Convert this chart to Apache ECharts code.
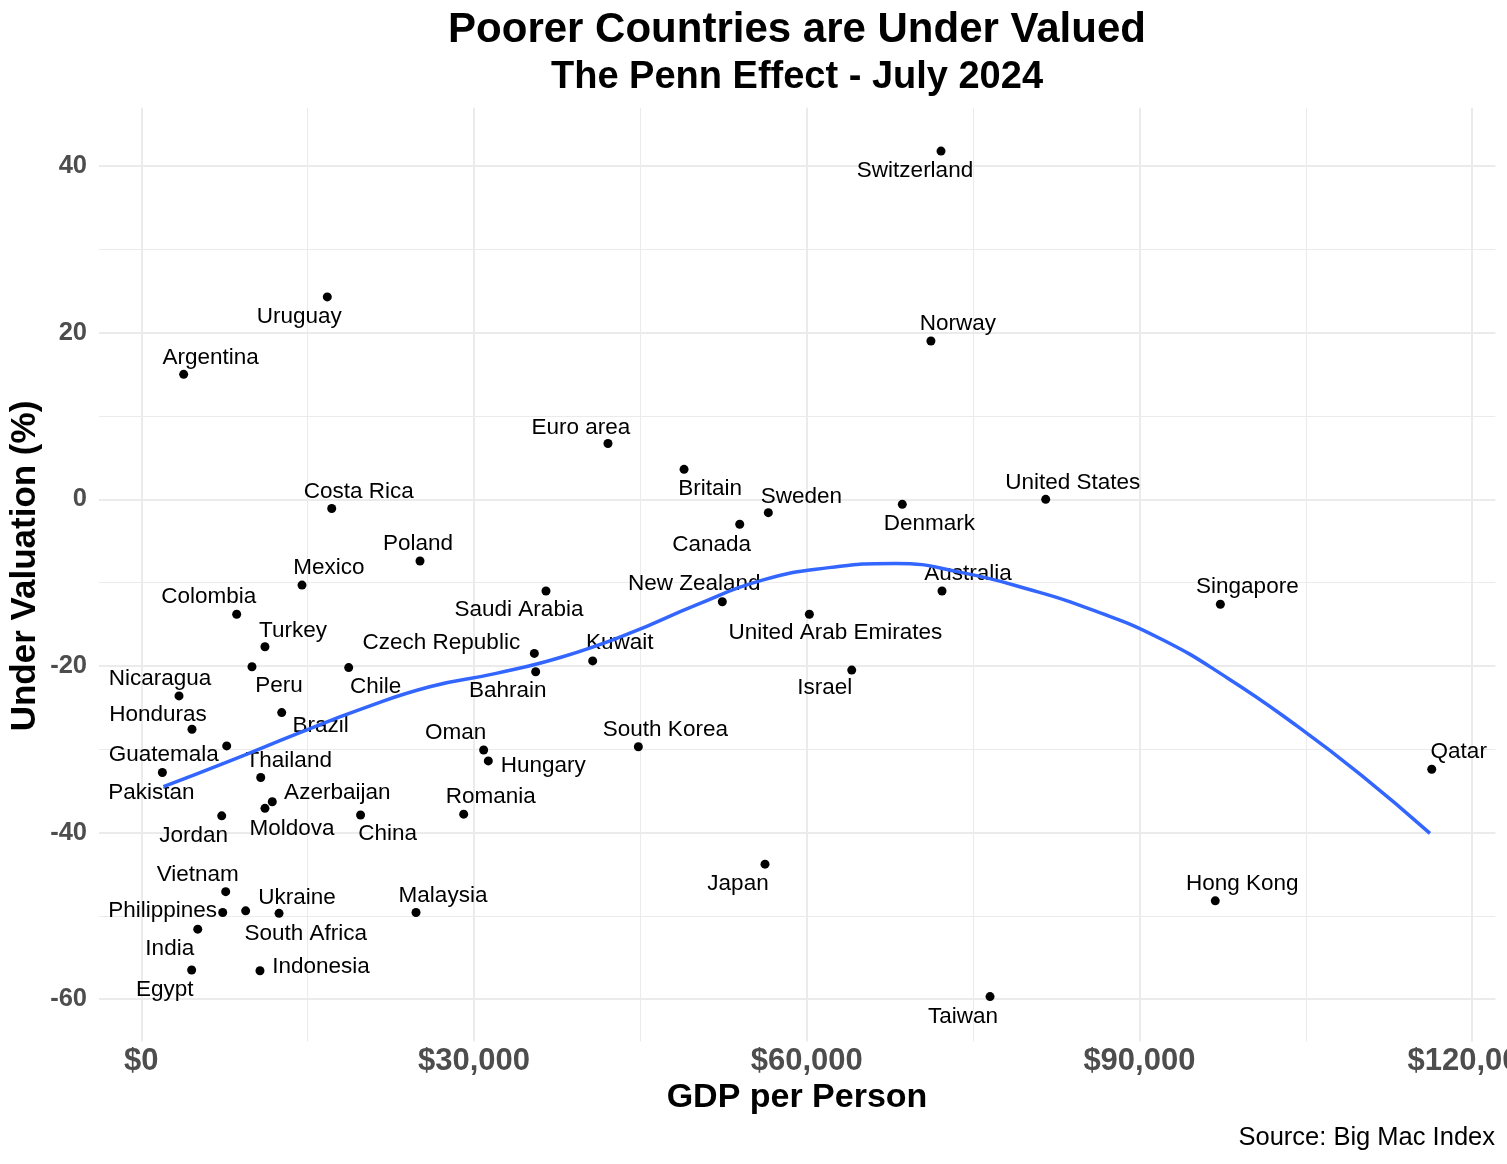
<!DOCTYPE html>
<html>
<head>
<meta charset="utf-8">
<title>Poorer Countries are Under Valued</title>
<script src="https://cdn.jsdelivr.net/npm/echarts@6/dist/echarts.min.js"></script>
<style>
  html, body { margin: 0; padding: 0; background: #fff; }
  #chart { width: 1507px; height: 1164px; }
</style>
</head>
<body>
<div id="chart"></div>
<script>
const countries = [
  'Switzerland', 'Uruguay', 'Argentina', 'Norway', 'Euro area', 'Britain', 'Sweden', 'Canada',
  'Denmark', 'United States', 'Australia', 'New Zealand', 'United Arab Emirates', 'Israel',
  'Singapore', 'Qatar', 'Hong Kong', 'Japan', 'Taiwan', 'Malaysia', 'South Korea', 'Romania',
  'Oman', 'Hungary', 'Kuwait', 'Bahrain', 'Czech Republic', 'Saudi Arabia', 'Poland', 'Costa Rica',
  'Mexico', 'Chile', 'Colombia', 'Turkey', 'Peru', 'Nicaragua', 'Brazil', 'Honduras', 'Guatemala',
  'Pakistan', 'Thailand', 'Azerbaijan', 'Moldova', 'Jordan', 'China', 'Vietnam', 'Philippines',
  'South Africa', 'Ukraine', 'India', 'Egypt', 'Indonesia'
];
const gdpPerPerson = [
  72110, 16770, 3820, 71200, 42080, 48940, 56540, 53960,
  68620, 81550, 72200, 52390, 60240, 64060,
  97300, 116360, 96840, 56240, 76530, 24770, 44820, 29070,
  30870, 31290, 40700, 35560, 35440, 36490, 25130, 17170,
  14490, 18700, 8600, 11150, 9980, 3400, 12660, 4570, 7700,
  1900, 10770, 11810, 11150, 7250, 19770, 7610, 7340,
  9410, 12420, 5090, 4540, 10700
];
const underValuation = [
  41.8, 24.3, 15.0, 19.0, 6.7, 3.6, -1.6, -3.0,
  -0.6, 0.0, -11.0, -12.3, -13.8, -20.5,
  -12.6, -32.4, -48.2, -43.8, -59.7, -49.6, -29.7, -37.8,
  -30.1, -31.4, -19.4, -20.7, -18.5, -11.0, -7.4, -1.1,
  -10.3, -20.2, -13.8, -17.7, -20.1, -23.6, -25.6, -27.6, -29.6,
  -32.8, -33.4, -36.3, -37.1, -38.0, -37.9, -47.1, -49.6,
  -49.4, -49.7, -51.6, -56.5, -56.6
];

// the blue smoothing curve
const fitGdp = [
  2000, 8000, 14300, 20000, 26000, 32000, 38000, 44000, 50000, 56000,
  62000, 68000, 74000, 80000, 86000, 92000, 98000, 104000, 110000, 116200
];
const fitValue = [
  -34.5, -31.4, -28.0, -25.1, -22.5, -20.9, -18.9, -16.1, -12.7, -9.7,
  -8.2, -7.7, -8.8, -10.8, -13.4, -16.8, -21.5, -27.0, -33.1, -40.1
];

const xTicks = [0, 30000, 60000, 90000, 120000];
const xMinorTicks = [15000, 45000, 75000, 105000];
const yTicks = [-60, -40, -20, 0, 20, 40];
const yMinorTicks = [-50, -30, -10, 10, 30];

// where each name sits relative to its dot (px), as the labels are placed in the picture
const labelOffset = {
  'Switzerland': [-26, 20], 'Uruguay': [-28, 20], 'Argentina': [27, -17], 'Norway': [27, -17],
  'Euro area': [-27, -16], 'Britain': [26, 19], 'Sweden': [33, -16], 'Canada': [-28, 20],
  'Denmark': [27, 19], 'United States': [27, -17], 'Australia': [26, -17], 'New Zealand': [-28, -18],
  'United Arab Emirates': [26, 19], 'Israel': [-27, 18], 'Singapore': [27, -17], 'Qatar': [27, -17],
  'Hong Kong': [27, -17], 'Japan': [-27, 20], 'Taiwan': [-27, 20], 'Malaysia': [27, -17],
  'South Korea': [27, -17], 'Romania': [27, -17], 'Oman': [-28, -17], 'Hungary': [55, 5],
  'Kuwait': [27, -18], 'Bahrain': [-28, 19], 'Czech Republic': [-93, -11], 'Saudi Arabia': [-27, 19],
  'Poland': [-2, -17], 'Costa Rica': [27, -17], 'Mexico': [27, -17], 'Chile': [27, 19],
  'Colombia': [-28, -17], 'Turkey': [28, -16], 'Peru': [27, 19], 'Nicaragua': [-19, -17],
  'Brazil': [39, 13], 'Honduras': [-34, -14], 'Guatemala': [-63, 9], 'Pakistan': [-11, 20],
  'Thailand': [28, -17], 'Azerbaijan': [65, -9], 'Moldova': [27, 20], 'Jordan': [-28, 20],
  'China': [27, 19], 'Vietnam': [-28, -17], 'Philippines': [-60, -2], 'South Africa': [60, 23],
  'Ukraine': [18, -16], 'India': [-28, 20], 'Egypt': [-27, 20], 'Indonesia': [61, -4]
};

const FONT = '"Liberation Sans", Arial, Helvetica, sans-serif';
const AXIS_GREY = '#4D4D4D';
const GRID_COLOR = '#EBEBEB';

const chart = echarts.init(document.getElementById('chart'), null, { renderer: 'canvas' });

const points = countries.map((name, i) => ({
  name: name,
  value: [gdpPerPerson[i], underValuation[i]]
}));

const curve = fitGdp.map((g, i) => [g, fitValue[i]]);

const major = { color: GRID_COLOR, width: 2, type: 'solid' };
const minor = { color: GRID_COLOR, width: 1.1, type: 'solid' };
const gridLines = [].concat(
  xMinorTicks.map(v => ({ xAxis: v, lineStyle: minor })),
  yMinorTicks.map(v => ({ yAxis: v, lineStyle: minor })),
  xTicks.map(v => ({ xAxis: v, lineStyle: major })),
  yTicks.map(v => ({ yAxis: v, lineStyle: major }))
);

const option = {
  backgroundColor: '#ffffff',
  animation: false,
  textStyle: { fontFamily: FONT },
  title: [
    {
      text: 'Poorer Countries are Under Valued',
      left: 797, top: 9, textAlign: 'center', padding: 0,
      textStyle: { fontFamily: FONT, fontSize: 42, fontWeight: 'bold', color: '#000' }
    },
    {
      text: 'The Penn Effect - July 2024',
      left: 797, top: 59, textAlign: 'center', padding: 0,
      textStyle: { fontFamily: FONT, fontSize: 38, fontWeight: 'bold', color: '#000' }
    },
    {
      text: 'Source: Big Mac Index',
      right: 12, top: 1125, padding: 0,
      textStyle: { fontFamily: FONT, fontSize: 25.5, fontWeight: 'normal', color: '#000' }
    }
  ],
  grid: {
    left: 99, right: 11.6, top: 107.8, bottom: 122.4,
    containLabel: false,
    outerBoundsMode: 'none'
  },
  xAxis: {
    type: 'value',
    min: -3815,
    max: 122100,
    axisLine: { show: false },
    axisTick: { show: false },
    splitLine: { show: false },
    axisLabel: {
      customValues: xTicks,
      margin: 4,
      color: AXIS_GREY,
      fontFamily: FONT,
      fontSize: 31,
      fontWeight: 'bold',
      formatter: v => '$' + Number(v).toLocaleString('en-US')
    }
  },
  yAxis: {
    type: 'value',
    min: -65.1,
    max: 47,
    axisLine: { show: false },
    axisTick: { show: false },
    splitLine: { show: false },
    axisLabel: {
      customValues: yTicks,
      margin: 12,
      color: AXIS_GREY,
      fontFamily: FONT,
      fontSize: 25.5,
      fontWeight: 'bold'
    }
  },
  graphic: [
    {
      type: 'text', x: 797, y: 1098,
      style: {
        text: 'GDP per Person', fill: '#000', font: 'bold 34px ' + FONT,
        textAlign: 'center', textVerticalAlign: 'middle'
      }
    },
    {
      type: 'text', x: 25, y: 566, rotation: Math.PI / 2,
      style: {
        text: 'Under Valuation (%)', fill: '#000', font: 'bold 35px ' + FONT,
        textAlign: 'center', textVerticalAlign: 'middle'
      }
    }
  ],
  series: [
    {
      // panel grid lines, kept underneath everything else
      type: 'line',
      z: 0,
      silent: true,
      data: [],
      markLine: {
        z: 0,
        silent: true,
        symbol: ['none', 'none'],
        label: { show: false },
        emphasis: { disabled: true },
        data: gridLines
      }
    },
    {
      type: 'scatter',
      z: 2,
      symbol: 'circle',
      symbolSize: 9,
      itemStyle: { color: '#000', opacity: 1 },
      label: {
        show: true,
        position: 'inside',
        formatter: '{b}',
        color: '#000',
        textBorderWidth: 0,
        textBorderColor: 'transparent',
        fontFamily: FONT,
        fontSize: 22.5,
        align: 'center',
        verticalAlign: 'middle'
      },
      // move each name off its dot the way the picture has it
      labelLayout: params => {
        const off = labelOffset[countries[params.dataIndex]] || [0, -16];
        return { dx: off[0], dy: off[1], hideOverlap: false };
      },
      emphasis: { disabled: true },
      data: points
    },
    {
      type: 'line',
      z: 5,
      smooth: 0.5,
      symbol: 'none',
      lineStyle: { color: '#3366FF', width: 3.5 },
      emphasis: { disabled: true },
      data: curve
    }
  ]
};

chart.setOption(option);
</script>
</body>
</html>
